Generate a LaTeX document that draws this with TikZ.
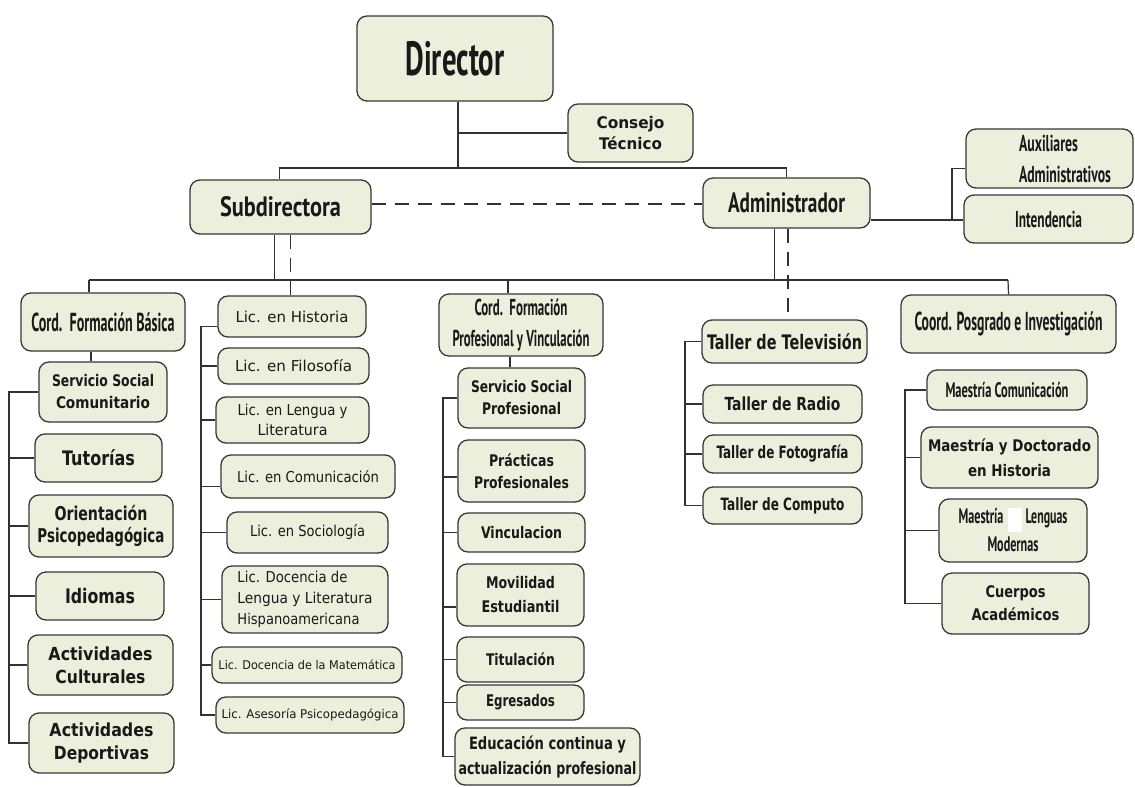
\documentclass[tikz,border=0pt]{standalone}
\usepackage{fontspec}
\usepackage{graphicx}
\newfontfamily\tah{DejaVu Sans}
\newfontfamily\cnd{PT Sans}
\newcommand\fitw[2]{\resizebox{#1pt}{\height}{#2}}
\definecolor{boxc}{RGB}{236,239,219}
\definecolor{bordc}{RGB}{55,55,55}
\definecolor{linec}{RGB}{50,50,50}
\definecolor{txtc}{RGB}{25,25,25}
\tikzset{
  box/.style={draw=bordc, fill=boxc, rounded corners=10pt, line width=1.3pt, inner sep=2pt, align=center, text=txtc},
  sz/.style 2 args={minimum width=#1pt, minimum height=#2pt},
  ln/.style={draw=linec, line width=1.2pt},
  dsh/.style={ln, dash pattern=on 14pt off 9pt},
  tb/.style 2 args={font=\tah\bfseries\fontsize{#1}{#2}\selectfont},
  tr/.style 2 args={font=\tah\fontsize{#1}{#2}\selectfont},
  cb/.style 2 args={font=\cnd\bfseries\fontsize{#1}{#2}\selectfont},
}
\begin{document}
\begin{tikzpicture}[x=1pt,y=-1pt]
\fill[white] (0,0) rectangle (1135,787);
\useasboundingbox (0,0) rectangle (1135,787);

% top level
\node[box,sz={196}{85},cb={48}{50}] (dir) at (455,58.5) {\fitw{99}{Director}};
\node[box,sz={125}{58},tb={16}{21}] (cons) at (630.5,133) {\fitw{68}{Consejo}\\\fitw{63}{Técnico}};
\node[box,sz={181}{54},cb={28}{30}] (sub) at (280.5,207) {\fitw{121}{Subdirectora}};
\node[box,sz={167}{50},cb={28}{30}] (adm) at (786.5,203) {\fitw{117}{Administrador}};
\node[box,sz={167}{59},cb={23}{31},align=left] (aux) at (1049.5,158.5) {\hspace*{31pt}\fitw{59}{Auxiliares}\\\hspace*{31pt}\fitw{92}{Administrativos}};
\node[box,sz={169}{48},cb={23}{26}] (int) at (1048.5,219) {\fitw{67}{Intendencia}};

% column 1
\node[box,sz={164}{58},cb={26}{28}] (cfb) at (103,322) {\fitw{143}{Cord.\ \ Formación Básica}};
\node[box,sz={128}{60},tb={16}{22}] (ssc) at (103,392) {\fitw{102}{Servicio Social}\\\fitw{94}{Comunitario}};
\node[box,sz={127}{48},tb={20}{24}] (tut) at (98.5,458) {\fitw{73}{Tutorías}};
\node[box,sz={144}{62},tb={19}{22}] (ori) at (101,526) {\fitw{93}{Orientación}\\\fitw{127}{Psicopedagógica}};
\node[box,sz={128}{48},tb={20}{24}] (idi) at (100,596) {\fitw{70}{Idiomas}};
\node[box,sz={145}{60},tb={18}{23}] (acu) at (100.5,665) {\fitw{104}{Actividades}\\\fitw{90}{Culturales}};
\node[box,sz={145}{60},tb={18}{23}] (ade) at (101.5,743) {\fitw{104}{Actividades}\\\fitw{95}{Deportivas}};

% column 2 (licenciaturas)
\node[box,sz={148}{41},tr={15}{20}] (lh) at (292,316.5) {\fitw{113}{Lic. en Historia}};
\node[box,sz={151}{36},tr={15}{20}] (lf) at (293.5,366) {\fitw{117}{Lic. en Filosofía}};
\node[box,sz={153}{46},tr={15}{20}] (ll) at (292.5,420) {\fitw{110}{Lic. en Lengua y}\\\fitw{70}{Literatura}};
\node[box,sz={174}{43},tr={15}{20}] (lc) at (308,476.5) {\fitw{142}{Lic. en Comunicación}};
\node[box,sz={161}{41},tr={15}{20}] (ls) at (307.5,532.5) {\fitw{115}{Lic. en Sociología}};
\node[box,sz={166}{67},tr={15}{21},align=left] (ld) at (305,599.5) {\fitw{110}{Lic. Docencia de}\\\fitw{135}{Lengua y Literatura}\\\fitw{122}{Hispanoamericana}};
\node[box,sz={190}{36},tr={12}{14}] (lm) at (307,665) {\fitw{177}{Lic. Docencia de la Matemática}};
\node[box,sz={188}{36},tr={12}{14}] (la) at (310,715) {\fitw{177}{Lic. Asesoría Psicopedagógica}};

% column 3
\node[box,sz={164}{62},cb={23}{31}] (cfp) at (521,325) {\fitw{93}{Cord.\ \ Formación}\\\fitw{137}{Profesional y Vinculación}};
\node[box,sz={127}{60},tb={16}{22}] (ssp) at (521.5,398) {\fitw{101}{Servicio Social}\\\fitw{79}{Profesional}};
\node[box,sz={127}{62},tb={16}{22}] (pp) at (521.5,471) {\fitw{65}{Prácticas}\\\fitw{95}{Profesionales}};
\node[box,sz={127}{39},tb={16}{22}] (vin) at (521.5,532.5) {\fitw{81}{Vinculacion}};
\node[box,sz={127}{62},tb={16}{24}] (mov) at (520.5,595) {\fitw{69}{Movilidad}\\\fitw{78}{Estudiantil}};
\node[box,sz={127}{45},tb={16}{22}] (tit) at (520.5,659.5) {\fitw{69}{Titulación}};
\node[box,sz={127}{35},tb={16}{22}] (egr) at (520.5,702.5) {\fitw{69}{Egresados}};
\node[box,sz={185}{57},tb={17}{25}] (edu) at (547.5,756.5) {\fitw{157}{Educación continua y}\\\fitw{178}{actualización profesional}};

% column 4 (talleres)
\node[box,sz={165}{43},tb={20}{22}] (ttv) at (784.5,341.5) {\fitw{155}{Taller de Televisión}};
\node[box,sz={159}{38},tb={18}{22}] (tra) at (782.5,404) {\fitw{116}{Taller de Radio}};
\node[box,sz={159}{38},tb={17}{22}] (tfo) at (782.5,454) {\fitw{132}{Taller de Fotografía}};
\node[box,sz={159}{37},tb={17}{22}] (tco) at (782.5,505.5) {\fitw{124}{Taller de Computo}};

% column 5 (posgrado)
\node[box,sz={215}{58},cb={26}{28}] (cpi) at (1008.5,324) {\fitw{188}{Coord. Posgrado e Investigación}};
\node[box,sz={160}{40},cb={21}{24}] (mco) at (1007,390) {\fitw{123}{Maestría Comunicación}};
\node[box,sz={177}{61},tb={16}{25}] (mdh) at (1009.5,457.5) {\fitw{163}{Maestría y Doctorado}\\\fitw{83}{en Historia}};
\node[box,sz={148}{63},cb={21}{28}] (mlm) at (1013,530.5) {\fitw{45}{Maestría}\hspace{22pt}\fitw{42}{Lenguas}\\\fitw{51}{Modernas}};
\fill[white] (1008,508) rectangle (1022,532);
\node[box,sz={147}{61},tb={16}{23}] (cac) at (1015.5,603.5) {\fitw{60}{Cuerpos}\\\fitw{88}{Académicos}};

% connectors: top
\coordinate (bus1) at (458,168);
\coordinate (bus2L) at (89,280);
\coordinate (bus2R) at (1008,280);
\coordinate (aj) at (952,220);
\draw[ln] ([xshift=3pt]dir.south) -- (bus1);
\draw[ln] ([xshift=3pt]dir.south |- cons.west) -- (cons.west);
\draw[ln] ([xshift=-1pt]sub.north) |- (bus1) -| (adm.north);
\draw[dsh] ([yshift=3pt]sub.east) -- ([yshift=3pt]sub.east -| adm.west);
\draw[ln] ([yshift=-17pt]adm.east) -- (aj);
\draw[ln] (aj) |- ([yshift=-10pt]aux.west);
\draw[ln] (aj) -- (aj -| int.west);

% lower bus
\draw[ln] (bus2L) -- (bus2R);
\draw[ln] ([xshift=-6pt]sub.south) -- ([xshift=-6pt]sub.south |- bus2L);
\draw[dsh] ([xshift=10pt]sub.south) -- ([xshift=10pt]sub.south |- lh.north);
\draw[ln] ([xshift=-12pt]adm.south) -- ([xshift=-12pt]adm.south |- bus2L);
\draw[dsh] ([xshift=1.5pt]adm.south) -- ([xshift=1.5pt]adm.south |- ttv.north);
\draw[ln] (bus2L) -- (bus2L |- cfb.north);
\draw[ln] ([xshift=-13pt]cfp.north |- bus2L) -- ([xshift=-13pt]cfp.north);
\draw[ln] (bus2R) -- (cpi.north);

% column 1
\coordinate (lbx) at (9,0);
\draw[ln] ([xshift=-12pt]cfb.south) -- ([xshift=-12pt]cfb.south |- ssc.north);
\draw[ln] (ssc.west) -- (ssc.west -| lbx) -- (ade.west -| lbx) -- (ade.west);
\foreach \n in {tut,ori,idi,acu} \draw[ln] (\n.west) -- (\n.west -| lbx);

% column 2
\coordinate (lcx) at (201,0);
\draw[ln] ([yshift=-10pt]lh.west) -- ([yshift=-10pt]lh.west -| lcx) -- (la.west -| lcx) -- (la.west);
\draw[ln] ([yshift=-10pt]lc.west) -- ([yshift=-10pt]lc.west -| lcx);
\foreach \n in {lf,ll,ls,ld,lm} \draw[ln] (\n.west) -- (\n.west -| lcx);

% column 3
\coordinate (mcx) at (443,0);
\draw[ln] ([xshift=-11pt]cfp.south) -- ([xshift=-11pt]cfp.south |- ssp.north);
\draw[ln] (ssp.west) -- (ssp.west -| mcx) -- (edu.west -| mcx) -- (edu.west);
\draw[ln] ([yshift=-6pt]pp.west) -- ([yshift=-6pt]pp.west -| mcx);
\draw[ln] ([yshift=-12pt]mov.west) -- ([yshift=-12pt]mov.west -| mcx);
\foreach \n in {vin,tit,egr} \draw[ln] (\n.west) -- (\n.west -| mcx);

% column 4
\coordinate (tcx) at (685,0);
\draw[ln] (ttv.west) -- (ttv.west -| tcx) -- (tco.west -| tcx) -- (tco.west);
\foreach \n in {tra,tfo} \draw[ln] (\n.west) -- (\n.west -| tcx);

% column 5
\coordinate (pcx) at (905,0);
\draw[ln] (mco.west) -- (mco.west -| pcx) -- (cac.west -| pcx) -- (cac.west);
\foreach \n in {mdh,mlm} \draw[ln] (\n.west) -- (\n.west -| pcx);
\end{tikzpicture}
\end{document}
